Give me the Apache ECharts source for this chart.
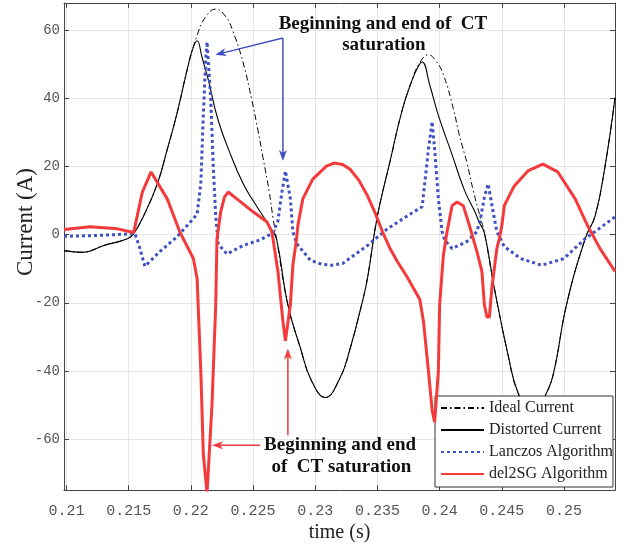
<!DOCTYPE html>
<html>
<head>
<meta charset="utf-8">
<script src="https://cdn.jsdelivr.net/npm/echarts@6/dist/echarts.min.js"></script>
<style>
  html, body { margin: 0; padding: 0; background: #fff; }
  #main { width: 625px; height: 548px; }
</style>
</head>
<body>
<div id="main"></div>
<script>
// time (s) / current (A)
const idealT = [0.2098, 0.2113, 0.2130, 0.2149, 0.2154, 0.2162, 0.2173, 0.2181, 0.2189, 0.2197,
  0.2205, 0.2212, 0.2220, 0.2228, 0.2234, 0.2242, 0.2249, 0.2254, 0.2258, 0.2263, 0.2266, 0.2269,
  0.2278, 0.2288, 0.2297, 0.2308, 0.2320, 0.2328, 0.2338, 0.2342, 0.2350, 0.2360, 0.2370, 0.2378,
  0.2384, 0.2391, 0.2397, 0.2403, 0.2411, 0.2416, 0.2422, 0.2427, 0.2432, 0.2436,
  0.2444, 0.2455, 0.2463, 0.2474, 0.2486, 0.2492, 0.2502, 0.2517, 0.2525, 0.2533, 0.2541];
const idealI = [-4.7, -5.2, -3.2, -1.2, 0.3, 5.5, 14.9, 25, 35.8, 48.4,
  58.5, 64, 66.2, 64, 59.5, 50.5, 39.5, 30.5, 22.6, 12.6, 5, -1.5,
  -20.6, -33.2, -42.9, -47.8, -42, -33.5, -19.5, -12.8, 5.5, 21.3, 36.7, 45.5,
  50.5, 52.8, 51, 47, 37, 29, 21, 13, 6, 0.5,
  -15.7, -35.3, -46.4, -52.5, -46.4, -40, -20.6, -1.2, 5.5, 20.1, 40.2];

const distT = [0.2098, 0.2113, 0.2130, 0.2149, 0.2154, 0.2162, 0.2173, 0.2181, 0.2189, 0.2197,
  0.2201, 0.2205, 0.2209, 0.2214, 0.2222, 0.2233, 0.2242, 0.2250, 0.2261, 0.2265, 0.2269,
  0.2278, 0.2288, 0.2297, 0.2308, 0.2320, 0.2328, 0.2338, 0.2342, 0.2350, 0.2360, 0.2370, 0.2378,
  0.2383, 0.2386, 0.2392, 0.2399, 0.2410, 0.2420, 0.2428, 0.2432, 0.2436,
  0.2444, 0.2455, 0.2463, 0.2474, 0.2486, 0.2492, 0.2502, 0.2517, 0.2525, 0.2533, 0.2541];
const distI = [-4.7, -5.2, -3.2, -1.2, 0.3, 5.5, 14.9, 25, 35.8, 48.4,
  54, 56.9, 52, 45.5, 33.5, 22.5, 15, 10, 3.8, 1.5, -1.5,
  -20.6, -33.2, -42.9, -47.8, -42, -33.5, -19.5, -12.8, 5.5, 21.3, 36.7, 45.5,
  49.5, 50.7, 44, 35, 23.5, 13, 7, 3.5, 0.5,
  -15.7, -35.3, -46.4, -52.5, -46.4, -40, -20.6, -1.2, 5.5, 20.1, 40.2];

const lanczosT = [0.2098, 0.2120, 0.2140, 0.2155, 0.2159, 0.2163, 0.2175, 0.2189, 0.2202, 0.2205,
  0.2208, 0.2210, 0.2212, 0.2213, 0.2216, 0.2218, 0.2220, 0.2222, 0.2229, 0.2242, 0.2256,
  0.2266, 0.2270, 0.2273, 0.2276, 0.2280, 0.2282, 0.2285, 0.2296, 0.2305, 0.2313, 0.2322,
  0.2342, 0.2358, 0.2374, 0.2386, 0.2388, 0.2391, 0.2394, 0.2396, 0.2399, 0.2402, 0.2404,
  0.2410, 0.2422, 0.2430, 0.2433, 0.2436, 0.2439, 0.2443, 0.2446, 0.2452, 0.2465, 0.2482,
  0.2500, 0.2517, 0.2541];
const lanczosI = [-0.5, -0.3, 0, 0.3, -4, -9.3, -5, -0.6, 4.7, 6,
  15, 35, 52, 56.6, 39.7, 20, 5.5, -2.8, -5.7, -3.2, -1.5,
  0.5, 4, 12, 18.7, 10.5, 0.9, -2.6, -7.5, -8.7, -9, -8.5,
  -3.2, 1.7, 5.5, 8.2, 15, 25, 33.2, 25, 10.5, 0.9, -1.5,
  -4.1, -2.0, 0.9, 5, 11, 14.9, 6.7, 0.9, -3.5, -7, -9,
  -7, -1.2, 5.2];

const del2sgT = [0.2098, 0.2119, 0.2141, 0.2154, 0.2161, 0.2168, 0.2181, 0.2191, 0.2202, 0.2205,
  0.2208, 0.2210, 0.2213, 0.2217, 0.2220, 0.2221, 0.2224, 0.2227, 0.2230, 0.2240, 0.2250,
  0.2261, 0.2265, 0.2266, 0.2270, 0.2274, 0.2276, 0.2280, 0.2282, 0.2285, 0.2286, 0.2290,
  0.2298, 0.2309, 0.2315, 0.2322, 0.2328, 0.2335, 0.2342, 0.2348, 0.2354, 0.2360, 0.2366,
  0.2374, 0.2384, 0.2387, 0.2391, 0.2394, 0.2396, 0.2399, 0.2400, 0.2403, 0.2406, 0.2410,
  0.2414, 0.2419, 0.2424, 0.2430, 0.2434, 0.2436, 0.2438, 0.2440, 0.2442, 0.2446, 0.2448,
  0.2450, 0.2452, 0.2460, 0.2471, 0.2483, 0.2495, 0.2509, 0.2519, 0.2529, 0.2541];
const del2sgI = [1.5, 2.3, 1.7, 0.6, 12.5, 18.4, 10.5, 0.9, -7, -12.8,
  -40, -64.4, -76, -49.8, -20.6, -1.2, 6.7, 11, 12.5, 9.6, 6.7,
  3.8, 0.9, -1.2, -10.8, -25.4, -31.2, -20.6, -9, -1.2, 2.6, 10.5,
  16.3, 20.1, 21, 20.6, 19.2, 16, 11.4, 6.5, 0.9, -4, -7.9,
  -12.5, -19, -25.4, -40, -51.6, -55.1, -40, -20.6, -6.1, 0.9, 8.5,
  9.6, 8.5, 2.6, -5, -10.8, -20.6, -24.2, -24.2, -15.7, -4.1, -1.2,
  2.6, 8.5, 14.3, 18.7, 20.7, 18.4, 10.5, 2.6, -4.1, -10.8];

const seriesNames = ['Ideal Current', 'Distorted Current', 'Lanczos Algorithm', 'del2SG Algorithm'];

const tMin = 0.2098, tMax = 0.2541;
const iMin = -75, iMax = 68;

function pairs(ts, vs) {
  return ts.map((t, k) => [t, vs[k]]);
}

const chart = echarts.init(document.getElementById('main'));

const axisColor = '#444';
const monoFont = 'Liberation Mono';
const serifFont = 'Liberation Serif';

chart.setOption({
  animation: false,
  backgroundColor: '#fff',
  grid: { left: 64, right: 10, top: 3, bottom: 56 },
  legend: {
    data: seriesNames,
    orient: 'vertical',
    left: 435,
    top: 396,
    padding: [4, 0, 5, 5],
    itemWidth: 43,
    itemHeight: 14,
    itemGap: 6,
    itemStyle: { opacity: 0 },
    backgroundColor: '#fff',
    borderColor: '#333',
    borderWidth: 1,
    borderRadius: 0,
    textStyle: { fontFamily: serifFont, fontSize: 16, color: '#222', lineHeight: 16 }
  },
  xAxis: [
    {
      type: 'value', min: tMin, max: tMax, splitNumber: 9, position: 'bottom',
      name: 'time (s)', nameLocation: 'middle', nameGap: 31,
      nameTextStyle: { fontFamily: serifFont, fontSize: 20, color: '#222' },
      axisLine: { show: true, onZero: false, lineStyle: { color: axisColor } },
      axisTick: { inside: true, length: 5, lineStyle: { color: axisColor } },
      axisLabel: { showMinLabel: false, showMaxLabel: false, color: '#555', fontFamily: monoFont, fontSize: 15, margin: 13 },
      splitLine: { show: true, lineStyle: { color: '#e6e6e6' } }
    },
    {
      type: 'value', min: tMin, max: tMax, splitNumber: 9, position: 'top',
      axisLine: { show: true, onZero: false, lineStyle: { color: axisColor } },
      axisTick: { inside: true, length: 5, lineStyle: { color: axisColor } },
      axisLabel: { show: false },
      splitLine: { show: false }
    }
  ],
  yAxis: [
    {
      type: 'value', min: iMin, max: iMax, splitNumber: 7, position: 'left',
      axisLine: { show: true, onZero: false, lineStyle: { color: axisColor } },
      axisTick: { show: true, inside: true, length: 5, lineStyle: { color: axisColor } },
      axisLabel: { showMinLabel: false, showMaxLabel: false, color: '#555', fontFamily: monoFont, fontSize: 14, margin: 4 },
      splitLine: { show: true, lineStyle: { color: '#e6e6e6' } }
    },
    {
      type: 'value', min: iMin, max: iMax, splitNumber: 7, position: 'right',
      axisLine: { show: true, onZero: false, lineStyle: { color: axisColor } },
      axisTick: { show: true, inside: true, length: 5, lineStyle: { color: axisColor } },
      axisLabel: { show: false },
      splitLine: { show: false }
    }
  ],
  series: [
    {
      name: seriesNames[0], type: 'line', data: pairs(idealT, idealI),
      symbol: 'none', smooth: 0.45, z: 2,
      lineStyle: { color: '#000', width: 1, type: [6, 3, 1.5, 3] },
      itemStyle: { color: '#000' }
    },
    {
      name: seriesNames[1], type: 'line', data: pairs(distT, distI),
      symbol: 'none', smooth: 0.45, z: 3,
      lineStyle: { color: '#000', width: 1.1 },
      itemStyle: { color: '#000' }
    },
    {
      name: seriesNames[2], type: 'line', data: pairs(lanczosT, lanczosI),
      symbol: 'none', z: 4,
      lineStyle: { color: '#3f51c2', width: 3, type: [3, 3] },
      itemStyle: { color: '#3f51c2' }
    },
    {
      name: seriesNames[3], type: 'line', data: pairs(del2sgT, del2sgI),
      symbol: 'none', z: 5,
      lineStyle: { color: '#f43a3a', width: 3 },
      itemStyle: { color: '#f43a3a' }
    }
  ]
});

// annotations, anchored in data coordinates
function px(p) {
  return chart.convertToPixel({ xAxisIndex: 0, yAxisIndex: 0 }, p);
}

function arrow(from, to, color) {
  const a = px(from), b = px(to);
  const ang = Math.atan2(b[1] - a[1], b[0] - a[0]);
  const len = 11, half = 4;
  const cx = Math.cos(ang), sy = Math.sin(ang);
  const bx = b[0] - len * cx, by = b[1] - len * sy;
  const nx = -sy * half, ny = cx * half;
  return [
    { type: 'line', z: 50, shape: { x1: a[0], y1: a[1], x2: bx + 3 * cx, y2: by + 3 * sy },
      style: { stroke: color, lineWidth: 1.5 } },
    { type: 'polygon', z: 50,
      shape: { points: [[b[0], b[1]], [bx + nx, by + ny], [bx + 3 * cx, by + 3 * sy], [bx - nx, by - ny]] },
      style: { fill: color } }
  ];
}

function label(at, text) {
  const p = px(at);
  return { type: 'text', z: 50, x: p[0], y: p[1],
    style: { text: text, font: 'bold 19px "Liberation Serif"', fill: '#111', align: 'center', verticalAlign: 'middle' } };
}

const blue = '#3f51c2', red = '#f43a3a';
const blueJoint = [0.2274, 57.7];

chart.setOption({
  graphic: [
    ...arrow(blueJoint, [0.22196, 52.8], blue),
    ...arrow(blueJoint, [0.2274, 21.6], blue),
    ...arrow([0.22557, -61.8], [0.2217, -61.8], red),
    ...arrow([0.2278, -58.9], [0.2278, -33.4], red),
    label([0.23544, 61.8], 'Beginning and end of  CT'),
    label([0.23552, 55.7], 'saturation'),
    label([0.2320, -61.8], 'Beginning and end'),
    label([0.2321, -68.2], 'of  CT saturation'),
    { type: 'text', x: 26, y: 222, rotation: Math.PI / 2,
      style: { text: 'Current (A)', font: '23px "Liberation Serif"', fill: '#222', align: 'center', verticalAlign: 'middle' } }
  ]
});
</script>
</body>
</html>
